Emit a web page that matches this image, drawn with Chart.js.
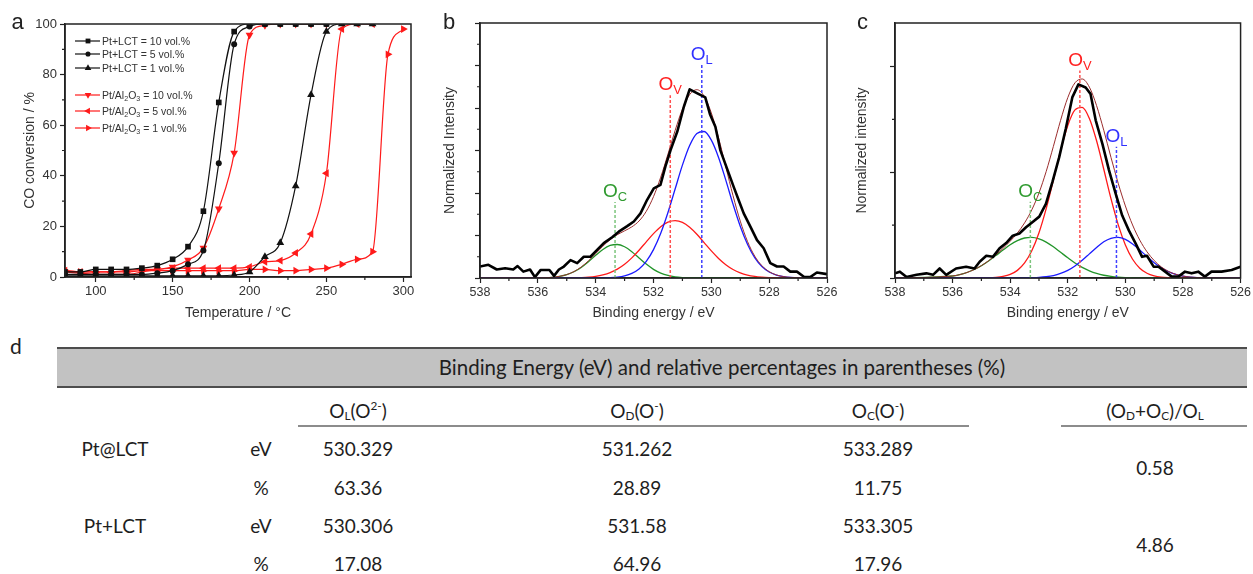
<!DOCTYPE html>
<html>
<head>
<meta charset="utf-8">
<title>CO conversion and O 1s XPS</title>
<script src="https://cdn.jsdelivr.net/npm/chart.js@4.4.1/dist/chart.umd.min.js"></script>
<style>
  html, body { margin: 0; padding: 0; background: #fff; }
  #fig { position: relative; width: 1253px; height: 574px; overflow: hidden; }
  #fig canvas { position: absolute; top: 0; }
  .cell { position: absolute; transform: translate(-50%, -50%); white-space: nowrap;
          font: 19px Lato, 'Open Sans', sans-serif; color: #1e1e1e; line-height: 1; }
  .cell sub { font-size: 62%; vertical-align: -0.25em; line-height: 0; }
  .cell sup { font-size: 62%; vertical-align: 0.6em; line-height: 0; }
  #band { position: absolute; left: 57px; top: 347px; width: 1190px; height: 37px;
          background: #c2c2c2; border-top: 2px solid #4d4d4d; border-bottom: 2px solid #4d4d4d; }
  .rule { position: absolute; top: 425px; height: 2px; background: #8c8c8c; }
</style>
</head>
<body>
<div id="fig">
  <canvas id="chartA" width="420" height="330" style="left:0"></canvas>
  <canvas id="chartB" width="420" height="330" style="left:420px"></canvas>
  <canvas id="chartC" width="419" height="330" style="left:834px"></canvas>

  <div class="cell" style="left:16px;top:345px;font-size:21px">d</div>
  <div id="band"></div>
  <div class="cell" style="left:722px;top:367px;font-size:20.5px">Binding Energy (eV) and relative percentages in parentheses (%)</div>
  <div class="cell" style="left:358px;top:410px">O<sub>L</sub>(O<sup>2-</sup>)</div>
  <div class="cell" style="left:637px;top:410px">O<sub>D</sub>(O<sup>-</sup>)</div>
  <div class="cell" style="left:878px;top:410px">O<sub>C</sub>(O<sup>-</sup>)</div>
  <div class="cell" style="left:1155px;top:410px">(O<sub>D</sub>+O<sub>C</sub>)/O<sub>L</sub></div>
  <div class="rule" style="left:298px;width:671px"></div>
  <div class="rule" style="left:1061px;width:186px"></div>
</div>

<script>
/* ─── Panel a: light-off curves ─────────────────────────────────────────── */
const aTemp   = [80, 90, 100, 110, 120, 130, 140, 150, 160, 170, 180, 190, 200, 210, 220, 230, 240, 250, 260, 270, 280, 290, 300];
const aLct10  = [2, 2, 3, 3, 3, 3.5, 4.5, 7, 12, 26, 69, 97, 100, 100, 100, 100, 100, 100, null, null, null, null, null];
const aLct5   = [1, 1, 1, 1, 1, 1, 1.5, 2.5, 5, 10.5, 45, 92, 99, 100, 100, 100, 100, 100, null, null, null, null, null];
const aLct1   = [0.5, 0.5, 0.5, 0.5, 0.5, 0.5, 0.5, 0.5, 0.5, 0.5, 0.5, 0.8, 2, 8, 13.5, 36, 72, 97, 100, 100, 100, null, null];
const aAl10   = [2, 1.5, 1, 1, 1, 2, 3, 4, 6.7, 11.5, 27, 49, 95.7, 99.5, 100, 100, 100, 100, null, null, null, null, null];
const aAl5    = [2.5, 2, 2, 2, 2.5, 3, 3, 3.5, 3.5, 3.5, 3.5, 3.5, 4, 6, 6.5, 9.5, 17, 41, 98, 100, 100, null, null];
const aAl1    = [2.5, 2, 2, 2, 2, 2.5, 2.5, 2.5, 2.5, 2.5, 2.5, 2.5, 3, 3, 2.5, 2.5, 3, 3.5, 5, 7, 10, 88, 98];
const aXTicks = [100, 150, 200, 250, 300];
const aYTicks = [0, 20, 40, 60, 80, 100];
const aXMinor = [125, 175, 225, 275];
const aYMinor = [10, 30, 50, 70, 90];

/* ─── Panels b, c: O 1s spectra ─────────────────────────────────────────── */
const xpsTicks = [538, 536, 534, 532, 530, 528, 526];
const xpsMinor = [537, 535, 533, 531, 529, 527];
const fitE = [538, 536, 535.75, 535.5, 535.25, 535, 534.75, 534.5, 534.25, 534, 533.75, 533.5, 533.25, 533,
              532.75, 532.5, 532.25, 532, 531.75, 531.5, 531.25, 531, 530.75, 530.5, 530.25, 530, 529.75,
              529.5, 529.25, 529, 528.75, 528.5, 528.25, 528, 527.75, 527.5, 527.25, 527, 526];

// b — Pt@LCT
const bRawE = [538, 537.71, 537.42, 537.13, 536.85, 536.7, 536.5, 536.27, 536.1, 535.9, 535.6, 535.44, 535.27, 535.1,
               534.87, 534.64, 534.41, 534.18, 533.95, 533.72, 533.43, 533.2, 532.91, 532.68, 532.45, 532.22, 531.99,
               531.76, 531.59, 531.41, 531.18, 530.95, 530.75, 530.5, 530.21, 530.04, 529.86, 529.69, 529.46, 529.23,
               529.06, 528.88, 528.65, 528.42, 528.19, 527.96, 527.73, 527.5, 527.27, 527.04, 526.8, 526.58, 526.35, 526];
const bRaw  = [0.27, 0.31, 0.20, 0.23, 0.20, 0.28, 0.15, 0.20, 0.02, 0.19, 0.19, 0.05, 0.20, 0.27, 0.42, 0.35, 0.50,
               0.50, 0.66, 0.82, 0.96, 1.09, 1.22, 1.33, 1.52, 1.84, 2.11, 2.19, 2.62, 3.01, 3.44, 4.03, 4.44, 4.35,
               4.25, 3.84, 3.56, 3.01, 2.58, 2.15, 1.84, 1.52, 1.21, 0.89, 0.70, 0.35, 0.27, 0.27, 0.15, 0.15, 0.03,
               0.02, 0.13, 0.09];
const bOC  = [0, 0.002, 0.006, 0.016, 0.038, 0.078, 0.147, 0.249, 0.383, 0.533, 0.672, 0.765, 0.788, 0.735, 0.620,
              0.473, 0.327, 0.204, 0.115, 0.059, 0.027, 0.011, 0.004, 0.001, 0, 0, 0, 0, 0, 0, 0, 0, 0, 0, 0, 0, 0, 0, 0];
const bOV  = [0, 0, 0, 0, 0.001, 0.002, 0.004, 0.010, 0.020, 0.039, 0.073, 0.127, 0.209, 0.324, 0.474, 0.654, 0.851,
              1.043, 1.206, 1.314, 1.350, 1.308, 1.194, 1.029, 0.834, 0.639, 0.461, 0.313, 0.201, 0.122, 0.069, 0.037,
              0.019, 0.009, 0.004, 0.001, 0, 0, 0];
const bOL  = [0, 0, 0, 0, 0, 0, 0, 0, 0, 0.001, 0.004, 0.009, 0.022, 0.051, 0.109, 0.214, 0.391, 0.667, 1.052, 1.541,
              2.099, 2.655, 3.118, 3.401, 3.447, 3.244, 2.837, 2.303, 1.737, 1.217, 0.793, 0.479, 0.269, 0.140, 0.068,
              0.031, 0.013, 0.005, 0];
const bEnv = [0, 0.002, 0.006, 0.016, 0.039, 0.080, 0.151, 0.259, 0.403, 0.573, 0.749, 0.901, 1.019, 1.110, 1.203,
              1.341, 1.569, 1.914, 2.373, 2.914, 3.476, 3.974, 4.316, 4.431, 4.281, 3.883, 3.298, 2.616, 1.938, 1.339,
              0.862, 0.516, 0.288, 0.149, 0.072, 0.032, 0.013, 0.005, 0];
const bPeakE   = [533.33, 531.42, 530.33];   // O_C, O_V, O_L
const bPeakTop = [1.79, 4.3, 5.02];
const bYTicks  = [0, 1, 2, 3, 4, 5, 6];
const bYMinor  = [0.5, 1.5, 2.5, 3.5, 4.5, 5.5];

// c — Pt+LCT
const cRawE = [538, 537.83, 537.6, 537.25, 536.91, 536.68, 536.45, 536.22, 535.88, 535.53, 535.24, 535.06, 534.83,
               534.6, 534.37, 534.14, 533.91, 533.68, 533.45, 533.22, 532.99, 532.76, 532.53, 532.3, 532.07, 531.84,
               531.63, 531.38, 531.21, 531.03, 530.8, 530.57, 530.34, 530.11, 529.88, 529.65, 529.42, 529.25, 529.02,
               528.85, 528.62, 528.39, 528.16, 527.93, 527.7, 527.47, 527.24, 527.01, 526.66, 526.31, 526];
const cRaw  = [0.044, 0.06, 0.01, 0.03, 0.044, 0.03, 0.09, 0.03, 0.09, 0.107, 0.09, 0.154, 0.21, 0.20, 0.28, 0.33,
               0.40, 0.42, 0.48, 0.53, 0.58, 0.70, 0.91, 1.14, 1.41, 1.71, 1.83, 1.80, 1.74, 1.49, 1.27, 1.02, 0.80,
               0.59, 0.45, 0.33, 0.20, 0.21, 0.107, 0.107, 0.06, 0.013, 0.013, 0.06, 0.044, 0.06, 0.013, 0.06, 0.06,
               0.075, 0.107];
const cOC  = [0, 0.019, 0.032, 0.052, 0.080, 0.116, 0.161, 0.212, 0.264, 0.314, 0.353, 0.378, 0.384, 0.370, 0.339,
              0.295, 0.243, 0.191, 0.142, 0.101, 0.068, 0.043, 0.026, 0.015, 0.008, 0.004, 0.002, 0, 0, 0, 0, 0, 0,
              0, 0, 0, 0, 0, 0];
const cOV  = [0, 0, 0, 0, 0, 0.001, 0.002, 0.006, 0.015, 0.034, 0.072, 0.142, 0.257, 0.428, 0.656, 0.926, 1.204,
              1.442, 1.589, 1.613, 1.508, 1.297, 1.028, 0.750, 0.504, 0.312, 0.177, 0.093, 0.045, 0.020, 0.008, 0.003,
              0.001, 0, 0, 0, 0, 0, 0];
const cOL  = [0, 0, 0, 0, 0, 0, 0, 0, 0, 0, 0, 0.001, 0.003, 0.006, 0.012, 0.023, 0.043, 0.072, 0.114, 0.167, 0.228,
              0.289, 0.342, 0.375, 0.384, 0.365, 0.322, 0.265, 0.203, 0.145, 0.096, 0.059, 0.034, 0.018, 0.009, 0.004,
              0.002, 0.001, 0];
const cEnv = [0, 0.019, 0.032, 0.052, 0.080, 0.117, 0.163, 0.218, 0.279, 0.348, 0.425, 0.521, 0.644, 0.804, 1.007,
              1.244, 1.490, 1.705, 1.845, 1.881, 1.804, 1.629, 1.396, 1.140, 0.896, 0.681, 0.501, 0.358, 0.248, 0.165,
              0.104, 0.062, 0.035, 0.018, 0.009, 0.004, 0.002, 0.001, 0];
const cPeakE   = [533.3, 531.58, 530.31];
const cPeakTop = [0.72, 1.96, 1.24];
const cYTicks  = [0, 1, 2];
const cYMinor  = [0.5, 1.5];

const peakNames = ['C', 'V', 'L'];

/* ─── Panel d: table ────────────────────────────────────────────────────── */
const tblSample = ['Pt@LCT', '', 'Pt+LCT', ''];
const tblUnit   = ['eV', '%', 'eV', '%'];
const tblOL     = ['530.329', '63.36', '530.306', '17.08'];
const tblOD     = ['531.262', '28.89', '531.58', '64.96'];
const tblOC     = ['533.289', '11.75', '533.305', '17.96'];
const tblRatio  = ['0.58', '4.86'];

/* ─── helpers ───────────────────────────────────────────────────────────── */
const FONT = "'Liberation Sans', Arial, sans-serif";
Chart.defaults.font.family = FONT;
Chart.defaults.color = '#333';

const pts = (xs, ys) => xs.map((x, i) => ({ x, y: ys[i] })).filter(p => p.y !== null);

// "Pt/Al_2O_3" -> runs with subscripts
function parseRuns(str) {
  const runs = [];
  for (let i = 0; i < str.length; i++) {
    if (str[i] === '_') { runs.push([str[i + 1], 1]); i++; }
    else if (runs.length && !runs[runs.length - 1][1]) runs[runs.length - 1][0] += str[i];
    else runs.push([str[i], 0]);
  }
  return runs;
}

function drawRuns(ctx, runs, x, y, size, center) {
  const sub = size * 0.68;
  let w = 0;
  runs.forEach(([t, k]) => { ctx.font = `${k ? sub : size}px ${FONT}`; w += ctx.measureText(t).width; });
  let cx = center ? x - w / 2 : x;
  ctx.textAlign = 'left';
  ctx.textBaseline = 'alphabetic';
  runs.forEach(([t, k]) => {
    ctx.font = `${k ? sub : size}px ${FONT}`;
    ctx.fillText(t, cx, k ? y + size * 0.22 : y);
    cx += ctx.measureText(t).width;
  });
}

// frame, minor ticks, panel letter, legend, peak labels
const decor = {
  id: 'decor',
  afterDatasetsDraw(chart) {
    const cfg = chart.options.plugins.decor;
    const { ctx, chartArea: a, scales: { x, y } } = chart;
    ctx.save();
    ctx.strokeStyle = '#222';
    ctx.lineWidth = 1.5;
    ctx.strokeRect(a.left, a.top, a.right - a.left, a.bottom - a.top);

    ctx.lineWidth = 1.2;
    ctx.beginPath();
    cfg.minorX.forEach(v => { const px = x.getPixelForValue(v); ctx.moveTo(px, a.bottom); ctx.lineTo(px, a.bottom + 3); });
    cfg.minorY.forEach(v => { const py = y.getPixelForValue(v); ctx.moveTo(a.left, py); ctx.lineTo(a.left - 3, py); });
    ctx.stroke();

    ctx.fillStyle = '#222';
    ctx.font = `22px ${FONT}`;
    ctx.textAlign = 'center';
    ctx.textBaseline = 'alphabetic';
    ctx.fillText(cfg.letter, cfg.letterX, 29);

    if (cfg.legend) {
      const rows = [41, 54, 68, 95, 111, 128];
      chart.data.datasets.forEach((ds, i) => {
        const ry = rows[i];
        ctx.strokeStyle = ds.borderColor;
        ctx.fillStyle = ds.borderColor;
        ctx.lineWidth = 1.2;
        ctx.beginPath(); ctx.moveTo(75, ry); ctx.lineTo(100, ry); ctx.stroke();
        Chart.helpers.drawPoint(ctx, { pointStyle: ds.pointStyle, rotation: ds.rotation,
                                       radius: ds.pointRadius * 0.85, borderWidth: 0 }, 88, ry);
        ctx.fillStyle = '#333';
        drawRuns(ctx, parseRuns(ds.label), 102, ry + 3.8, 10.5, false);
      });
    }

    if (cfg.peaks) {
      cfg.peaks.e.forEach((e, i) => {
        ctx.fillStyle = cfg.peaks.colors[i];
        drawRuns(ctx, [['O', 0], [peakNames[i], 1]], x.getPixelForValue(e), y.getPixelForValue(cfg.peaks.top[i]) - 5, 19, true);
      });
    }
    ctx.restore();
  }
};

function axes(o) {
  return {
    x: {
      type: 'linear', min: o.xMin, max: o.xMax, reverse: !!o.reverse,
      afterBuildTicks: s => { s.ticks = o.xTicks.map(v => ({ value: v })); },
      afterFit: s => { s.height = o.xH; },
      ticks: { font: { size: o.tickSize }, color: '#333', padding: 2, maxRotation: 0, autoSkip: false },
      grid: { drawOnChartArea: false, tickLength: 5, tickColor: '#222', tickWidth: 1.2 },
      border: { color: '#222', width: 1.5 },
      title: { display: true, text: o.xTitle, font: { size: 14 }, color: '#333', padding: { top: 0, bottom: 8.6 } }
    },
    y: {
      type: 'linear', min: o.yMin, max: o.yMax,
      afterBuildTicks: s => { s.ticks = o.yTicks.map(v => ({ value: v })); },
      afterFit: s => { s.width = o.yW; },
      ticks: { font: { size: o.tickSize }, color: '#333', padding: 3, callback: o.yLabels ? undefined : () => '' },
      grid: { drawOnChartArea: false, tickLength: 5, tickColor: '#222', tickWidth: 1.2 },
      border: { color: '#222', width: 1.5 },
      title: { display: true, text: o.yTitle, font: { size: 14 }, color: '#333', padding: { top: o.yTitlePad, bottom: 0 } }
    }
  };
}

const baseOpts = { responsive: false, animation: false, events: [] };

/* ─── Chart a ───────────────────────────────────────────────────────────── */
function curve(label, ys, color, style, rot, radius) {
  return {
    label, data: pts(aTemp, ys), showLine: true, borderColor: color, backgroundColor: color,
    borderWidth: 1.2, pointStyle: style, rotation: rot, pointRadius: radius, pointBorderWidth: 0,
    cubicInterpolationMode: 'monotone'
  };
}

new Chart(document.getElementById('chartA'), {
  type: 'scatter',
  data: {
    datasets: [
      curve('Pt+LCT = 10 vol.%', aLct10, '#111', 'rect', 0, 4),
      curve('Pt+LCT = 5 vol.%', aLct5, '#111', 'circle', 0, 3),
      curve('Pt+LCT = 1 vol.%', aLct1, '#111', 'triangle', 0, 4.5),
      curve('Pt/Al_2O_3 = 10 vol.%', aAl10, '#ff1a1a', 'triangle', 180, 4.5),
      curve('Pt/Al_2O_3 = 5 vol.%', aAl5, '#ff1a1a', 'triangle', 270, 4.5),
      curve('Pt/Al_2O_3 = 1 vol.%', aAl1, '#ff1a1a', 'triangle', 90, 4.5)
    ]
  },
  options: {
    ...baseOpts,
    layout: { padding: { top: 24, right: 9, left: 0, bottom: 0 } },
    scales: axes({ xMin: 80, xMax: 305, xTicks: aXTicks, xH: 53, yMin: 0, yMax: 100, yTicks: aYTicks, yW: 65,
                   tickSize: 13, yLabels: true, xTitle: 'Temperature / °C', yTitle: 'CO conversion / %', yTitlePad: 21.6 }),
    plugins: { legend: { display: false }, tooltip: { enabled: false },
               decor: { letter: 'a', letterX: 17.5, minorX: aXMinor, minorY: aYMinor, legend: true } }
  },
  plugins: [decor]
});

/* ─── Charts b, c ───────────────────────────────────────────────────────── */
const peakLine = ['#7cc47c', '#ff5050', '#4040ff'];
const peakText = ['#2f9a2f', '#ff2020', '#3030ff'];

function xpsChart(id, raw, rawE, comps, env, peakE, peakTop, yMax, yTicks, yMinor, yTitle, letter, letterX, yTitlePad, padRight) {
  const fit = (ys, color, w) => ({ data: pts(fitE, ys), showLine: true, borderColor: color, borderWidth: w,
                                   pointRadius: 0, cubicInterpolationMode: 'monotone' });
  const sets = [
    { data: pts(rawE, raw), showLine: true, borderColor: '#000', borderWidth: 2.6, pointRadius: 0,
      tension: 0, borderJoinStyle: 'round' },
    ...peakE.map((e, i) => ({ data: [{ x: e, y: 0 }, { x: e, y: peakTop[i] }], showLine: true,
                              borderColor: peakLine[i], borderWidth: 1.5, borderDash: [3, 2], pointRadius: 0 })),
    fit(env, '#9b2d2d', 1),
    fit(comps[2], '#1a1aff', 1.3),
    fit(comps[1], '#ff1a1a', 1.3),
    fit(comps[0], '#22952a', 1.3)
  ];
  new Chart(document.getElementById(id), {
    type: 'scatter',
    data: { datasets: sets },
    options: {
      ...baseOpts,
      layout: { padding: { top: 23, right: padRight, left: 0, bottom: 0 } },
      scales: axes({ xMin: 526, xMax: 538, reverse: true, xTicks: xpsTicks, xH: 52, yMin: 0, yMax, yTicks,
                     yW: id === 'chartB' ? 60 : 61, tickSize: 12.5, yLabels: false,
                     xTitle: 'Binding energy / eV', yTitle, yTitlePad }),
      plugins: { legend: { display: false }, tooltip: { enabled: false },
                 decor: { letter, letterX, minorX: xpsMinor, minorY: yMinor,
                          peaks: { e: peakE, top: peakTop, colors: peakText } } }
    },
    plugins: [decor]
  });
}

xpsChart('chartB', bRaw, bRawE, [bOC, bOV, bOL], bEnv, bPeakE, bPeakTop, 6, bYTicks, bYMinor,
         'Normalized Intensity', 'b', 29, 21.6, 13);
xpsChart('chartC', cRaw, cRawE, [cOC, cOV, cOL], cEnv, cPeakE, cPeakTop, 2.41, cYTicks, cYMinor,
         'Normalized intensity', 'c', 28.5, 19.6, 11);

/* ─── Table rows ────────────────────────────────────────────────────────── */
const fig = document.getElementById('fig');
function cell(text, x, y) {
  const d = document.createElement('div');
  d.className = 'cell';
  d.style.left = x + 'px';
  d.style.top = y + 'px';
  d.textContent = text;
  fig.appendChild(d);
}
const rowY = [448, 487, 525, 563];
rowY.forEach((y, i) => {
  if (tblSample[i]) cell(tblSample[i], 115, y);
  cell(tblUnit[i], 261, y);
  cell(tblOL[i], 358, y);
  cell(tblOD[i], 637, y);
  cell(tblOC[i], 878, y);
});
cell(tblRatio[0], 1155, 467);
cell(tblRatio[1], 1155, 544);
</script>
</body>
</html>
